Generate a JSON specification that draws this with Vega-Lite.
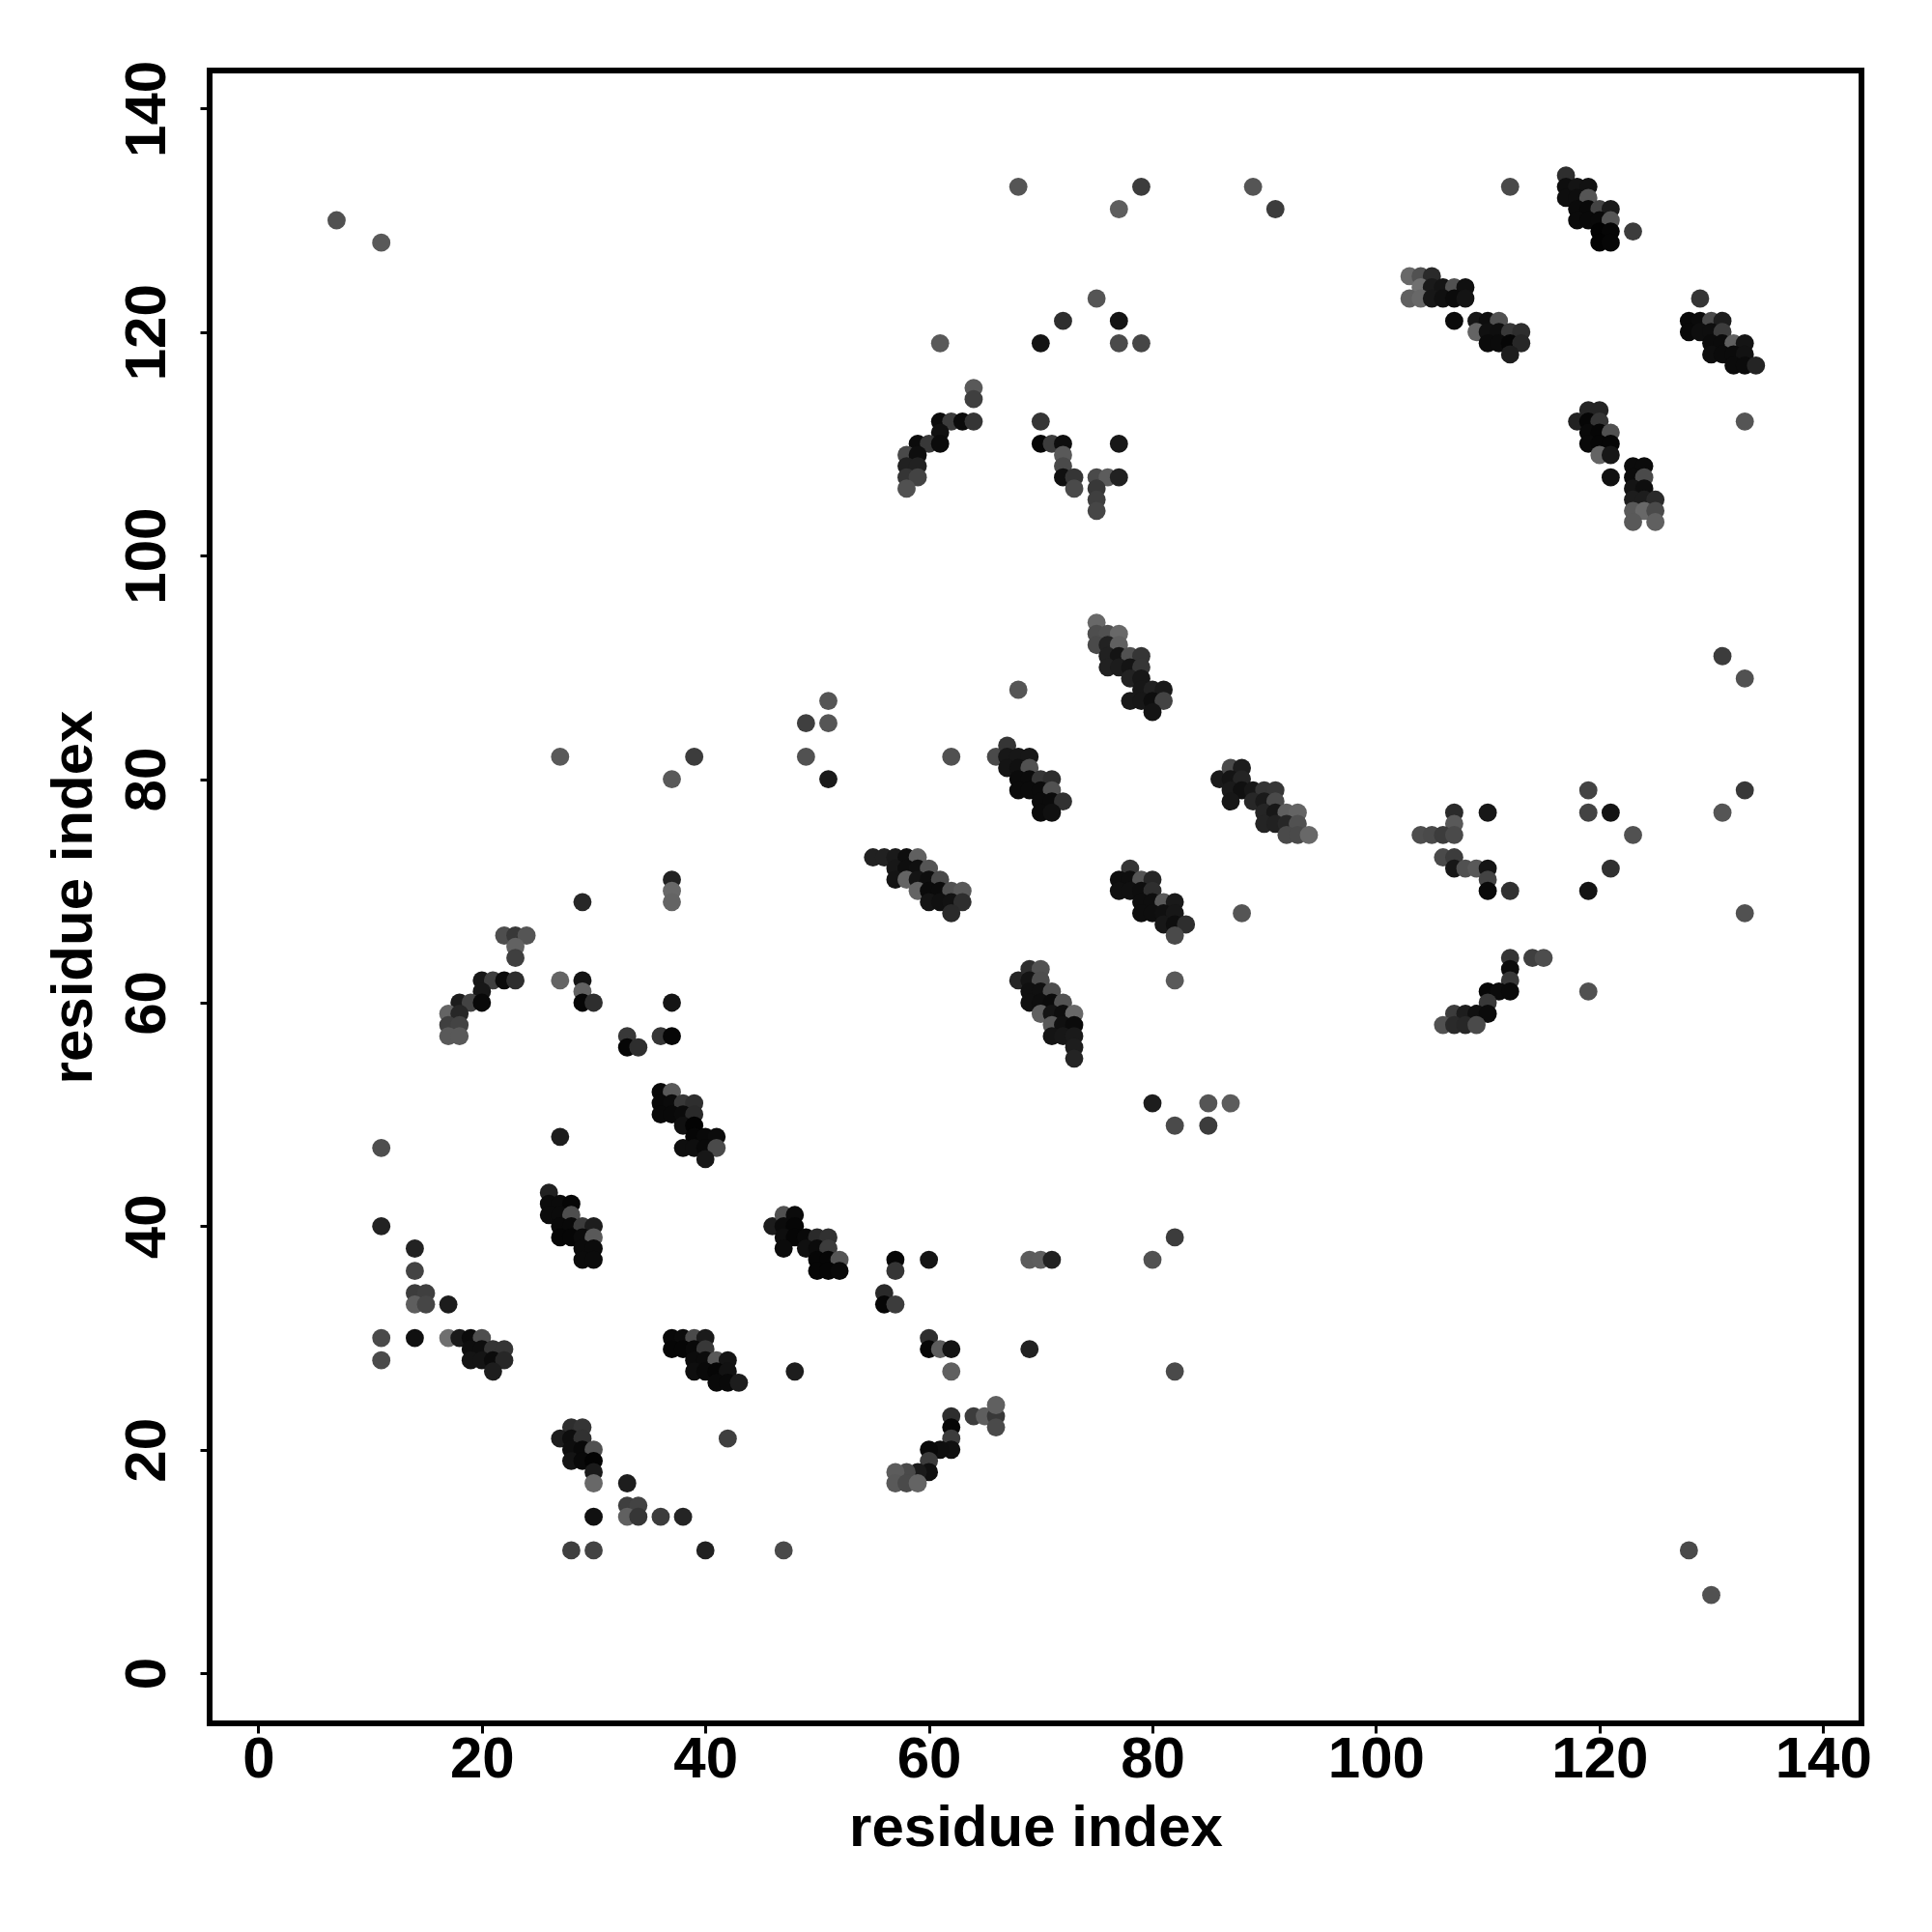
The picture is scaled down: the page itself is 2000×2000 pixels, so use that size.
{"$schema":"https://vega.github.io/schema/vega-lite/v6.json","width":1710,"height":1711,"autosize":{"type":"none"},"padding":{"left":217,"top":73,"right":73,"bottom":216},"background":"white","config":{"view":{"stroke":"#000","strokeWidth":6,"fill":"white"}},
"data":{"values":[
{"i":7,"j":130,"g":88},{"i":11,"j":128,"g":96},{"i":11,"j":47,"g":85},{"i":11,"j":40,"g":34},{"i":11,"j":30,"g":80},{"i":11,"j":28,"g":80},
{"i":14,"j":38,"g":34},{"i":14,"j":36,"g":72},{"i":14,"j":34,"g":64},{"i":15,"j":34,"g":68},{"i":14,"j":33,"g":102},{"i":15,"j":33,"g":76},{"i":17,"j":33,"g":26},{"i":14,"j":30,"g":12},
{"i":17,"j":30,"g":119},{"i":18,"j":30,"g":24},{"i":19,"j":30,"g":8},{"i":20,"j":30,"g":85},{"i":19,"j":29,"g":10},{"i":20,"j":29,"g":10},{"i":21,"j":29,"g":56},{"i":22,"j":29,"g":56},{"i":19,"j":28,"g":16},{"i":20,"j":28,"g":16},{"i":21,"j":28,"g":8},{"i":22,"j":28,"g":40},{"i":21,"j":27,"g":28},
{"i":26,"j":43,"g":32},{"i":26,"j":42,"g":8},{"i":27,"j":42,"g":8},{"i":28,"j":42,"g":4},{"i":26,"j":41,"g":8},{"i":27,"j":41,"g":8},{"i":28,"j":41,"g":85},{"i":27,"j":40,"g":6},{"i":28,"j":40,"g":6},{"i":29,"j":40,"g":64},{"i":30,"j":40,"g":28},{"i":27,"j":39,"g":4},{"i":28,"j":39,"g":4},{"i":29,"j":39,"g":8},{"i":30,"j":39,"g":96},{"i":29,"j":38,"g":8},{"i":30,"j":38,"g":8},{"i":29,"j":37,"g":8},{"i":30,"j":37,"g":8},
{"i":37,"j":71,"g":34},{"i":37,"j":70,"g":112},{"i":37,"j":69,"g":108},{"i":29,"j":69,"g":40},{"i":22,"j":66,"g":85},{"i":23,"j":66,"g":60},{"i":24,"j":66,"g":92},{"i":23,"j":65,"g":106},{"i":23,"j":64,"g":68},
{"i":20,"j":62,"g":20},{"i":21,"j":62,"g":68},{"i":22,"j":62,"g":8},{"i":23,"j":62,"g":48},{"i":27,"j":62,"g":108},{"i":29,"j":62,"g":16},{"i":29,"j":61,"g":106},{"i":20,"j":61,"g":20},{"i":18,"j":60,"g":26},{"i":19,"j":60,"g":72},{"i":20,"j":60,"g":6},{"i":29,"j":60,"g":4},{"i":30,"j":60,"g":48},{"i":37,"j":60,"g":16},{"i":17,"j":59,"g":108},{"i":18,"j":59,"g":40},{"i":17,"j":58,"g":68},{"i":18,"j":58,"g":72},{"i":17,"j":57,"g":96},{"i":18,"j":57,"g":96},
{"i":33,"j":57,"g":60},{"i":33,"j":56,"g":4},{"i":34,"j":56,"g":48},{"i":36,"j":57,"g":56},{"i":37,"j":57,"g":4},{"i":27,"j":48,"g":28},
{"i":36,"j":52,"g":6},{"i":37,"j":52,"g":96},{"i":36,"j":51,"g":6},{"i":37,"j":51,"g":8},{"i":38,"j":51,"g":60},{"i":39,"j":51,"g":48},{"i":36,"j":50,"g":6},{"i":37,"j":50,"g":6},{"i":38,"j":50,"g":8},{"i":39,"j":50,"g":44},{"i":38,"j":49,"g":12},{"i":39,"j":49,"g":2},{"i":39,"j":48,"g":4},{"i":40,"j":48,"g":6},{"i":41,"j":48,"g":8},{"i":38,"j":47,"g":10},{"i":39,"j":47,"g":10},{"i":40,"j":47,"g":6},{"i":41,"j":47,"g":80},{"i":40,"j":46,"g":20},
{"i":28,"j":22,"g":48},{"i":29,"j":22,"g":56},{"i":27,"j":21,"g":28},{"i":28,"j":21,"g":10},{"i":29,"j":21,"g":52},{"i":28,"j":20,"g":10},{"i":29,"j":20,"g":6},{"i":30,"j":20,"g":88},{"i":28,"j":19,"g":16},{"i":29,"j":19,"g":6},{"i":30,"j":19,"g":2},{"i":30,"j":18,"g":24},{"i":30,"j":17,"g":112},{"i":33,"j":17,"g":28},{"i":33,"j":15,"g":68},{"i":34,"j":15,"g":72},{"i":33,"j":14,"g":104},{"i":34,"j":14,"g":58},{"i":30,"j":14,"g":12},{"i":36,"j":14,"g":64},{"i":38,"j":14,"g":36},{"i":28,"j":11,"g":68},{"i":30,"j":11,"g":72},{"i":40,"j":11,"g":32},{"i":42,"j":21,"g":68},
{"i":37,"j":30,"g":6},{"i":38,"j":30,"g":8},{"i":39,"j":30,"g":80},{"i":40,"j":30,"g":24},{"i":37,"j":29,"g":4},{"i":38,"j":29,"g":4},{"i":39,"j":29,"g":6},{"i":40,"j":29,"g":60},{"i":39,"j":28,"g":8},{"i":40,"j":28,"g":8},{"i":41,"j":28,"g":96},{"i":42,"j":28,"g":16},{"i":39,"j":27,"g":10},{"i":40,"j":27,"g":6},{"i":41,"j":27,"g":4},{"i":42,"j":27,"g":14},{"i":41,"j":26,"g":6},{"i":42,"j":26,"g":6},{"i":43,"j":26,"g":28},
{"i":46,"j":40,"g":26},{"i":47,"j":41,"g":88},{"i":48,"j":41,"g":8},{"i":47,"j":40,"g":8},{"i":48,"j":40,"g":4},{"i":47,"j":39,"g":10},{"i":48,"j":39,"g":4},{"i":49,"j":39,"g":6},{"i":50,"j":39,"g":44},{"i":51,"j":39,"g":52},{"i":47,"j":38,"g":8},{"i":49,"j":38,"g":12},{"i":50,"j":38,"g":8},{"i":51,"j":38,"g":64},{"i":50,"j":37,"g":4},{"i":51,"j":37,"g":4},{"i":52,"j":37,"g":92},{"i":50,"j":36,"g":4},{"i":51,"j":36,"g":4},{"i":52,"j":36,"g":6},
{"i":57,"j":37,"g":4},{"i":57,"j":36,"g":56},{"i":60,"j":37,"g":16},{"i":69,"j":37,"g":100},{"i":70,"j":37,"g":102},{"i":71,"j":37,"g":32},{"i":56,"j":34,"g":42},{"i":56,"j":33,"g":4},{"i":57,"j":33,"g":64},{"i":60,"j":30,"g":48},{"i":60,"j":29,"g":4},{"i":61,"j":29,"g":100},{"i":62,"j":29,"g":16},{"i":69,"j":29,"g":34},{"i":62,"j":27,"g":104},{"i":48,"j":27,"g":28},
{"i":62,"j":23,"g":48},{"i":62,"j":22,"g":4},{"i":62,"j":21,"g":64},{"i":62,"j":20,"g":12},{"i":61,"j":20,"g":10},{"i":60,"j":20,"g":6},{"i":60,"j":19,"g":64},{"i":60,"j":18,"g":12},{"i":59,"j":18,"g":24},{"i":58,"j":18,"g":80},{"i":57,"j":18,"g":100},{"i":57,"j":17,"g":96},{"i":58,"j":17,"g":80},{"i":59,"j":17,"g":108},{"i":64,"j":23,"g":64},{"i":65,"j":23,"g":102},{"i":66,"j":23,"g":60},{"i":66,"j":24,"g":104},{"i":66,"j":22,"g":80},{"i":47,"j":11,"g":80},
{"i":55,"j":73,"g":32},{"i":56,"j":73,"g":32},{"i":57,"j":73,"g":24},{"i":58,"j":73,"g":10},{"i":59,"j":73,"g":104},{"i":57,"j":72,"g":20},{"i":58,"j":72,"g":10},{"i":59,"j":72,"g":12},{"i":60,"j":72,"g":92},{"i":57,"j":71,"g":16},{"i":58,"j":71,"g":108},{"i":59,"j":71,"g":16},{"i":60,"j":71,"g":10},{"i":61,"j":71,"g":80},{"i":59,"j":70,"g":108},{"i":60,"j":70,"g":8},{"i":61,"j":70,"g":8},{"i":62,"j":70,"g":88},{"i":63,"j":70,"g":96},{"i":60,"j":69,"g":16},{"i":61,"j":69,"g":12},{"i":62,"j":69,"g":14},{"i":63,"j":69,"g":48},{"i":62,"j":68,"g":44},
{"i":78,"j":72,"g":56},{"i":77,"j":71,"g":10},{"i":78,"j":71,"g":10},{"i":79,"j":71,"g":92},{"i":80,"j":71,"g":40},{"i":77,"j":70,"g":12},{"i":78,"j":70,"g":12},{"i":79,"j":70,"g":10},{"i":80,"j":70,"g":48},{"i":79,"j":69,"g":10},{"i":80,"j":69,"g":10},{"i":81,"j":69,"g":96},{"i":82,"j":69,"g":22},{"i":79,"j":68,"g":10},{"i":80,"j":68,"g":10},{"i":81,"j":68,"g":12},{"i":82,"j":68,"g":20},{"i":81,"j":67,"g":20},{"i":82,"j":67,"g":10},{"i":83,"j":67,"g":48},{"i":82,"j":66,"g":80},{"i":82,"j":62,"g":96},{"i":88,"j":68,"g":92},
{"i":68,"j":62,"g":38},{"i":69,"j":63,"g":48},{"i":70,"j":63,"g":88},{"i":69,"j":62,"g":16},{"i":70,"j":62,"g":85},{"i":69,"j":61,"g":12},{"i":70,"j":61,"g":12},{"i":71,"j":61,"g":85},{"i":69,"j":60,"g":12},{"i":70,"j":60,"g":10},{"i":71,"j":60,"g":8},{"i":72,"j":60,"g":90},{"i":70,"j":59,"g":104},{"i":71,"j":59,"g":16},{"i":72,"j":59,"g":10},{"i":73,"j":59,"g":112},{"i":71,"j":58,"g":96},{"i":72,"j":58,"g":12},{"i":73,"j":58,"g":8},{"i":71,"j":57,"g":16},{"i":72,"j":57,"g":20},{"i":73,"j":57,"g":24},{"i":73,"j":56,"g":28},{"i":73,"j":55,"g":36},
{"i":80,"j":51,"g":28},{"i":85,"j":51,"g":92},{"i":87,"j":51,"g":100},{"i":82,"j":49,"g":80},{"i":85,"j":49,"g":64},
{"i":75,"j":94,"g":112},{"i":75,"j":93,"g":85},{"i":76,"j":93,"g":88},{"i":77,"j":93,"g":112},{"i":75,"j":92,"g":80},{"i":76,"j":92,"g":34},{"i":77,"j":92,"g":104},{"i":76,"j":91,"g":32},{"i":77,"j":91,"g":16},{"i":78,"j":91,"g":88},{"i":79,"j":91,"g":56},{"i":76,"j":90,"g":32},{"i":77,"j":90,"g":26},{"i":78,"j":90,"g":16},{"i":79,"j":90,"g":58},{"i":78,"j":89,"g":34},{"i":79,"j":89,"g":20},{"i":79,"j":88,"g":20},{"i":80,"j":88,"g":32},{"i":81,"j":88,"g":24},{"i":78,"j":87,"g":22},{"i":79,"j":87,"g":20},{"i":80,"j":87,"g":10},{"i":81,"j":87,"g":72},{"i":80,"j":86,"g":16},{"i":68,"j":88,"g":92},
{"i":66,"j":82,"g":80},{"i":67,"j":83,"g":56},{"i":67,"j":82,"g":20},{"i":68,"j":82,"g":20},{"i":69,"j":82,"g":20},{"i":67,"j":81,"g":16},{"i":68,"j":81,"g":12},{"i":69,"j":81,"g":88},{"i":68,"j":80,"g":8},{"i":69,"j":80,"g":8},{"i":70,"j":80,"g":58},{"i":71,"j":80,"g":48},{"i":68,"j":79,"g":8},{"i":69,"j":79,"g":8},{"i":70,"j":79,"g":8},{"i":71,"j":79,"g":88},{"i":70,"j":78,"g":8},{"i":71,"j":78,"g":8},{"i":72,"j":78,"g":52},{"i":70,"j":77,"g":8},{"i":71,"j":77,"g":12},
{"i":86,"j":80,"g":24},{"i":87,"j":81,"g":80},{"i":88,"j":81,"g":28},{"i":87,"j":80,"g":16},{"i":88,"j":80,"g":36},{"i":87,"j":79,"g":24},{"i":88,"j":79,"g":12},{"i":89,"j":79,"g":20},{"i":90,"j":79,"g":56},{"i":91,"j":79,"g":58},{"i":87,"j":78,"g":20},{"i":89,"j":78,"g":40},{"i":90,"j":78,"g":24},{"i":91,"j":78,"g":80},{"i":90,"j":77,"g":38},{"i":91,"j":77,"g":20},{"i":92,"j":77,"g":104},{"i":93,"j":77,"g":108},{"i":90,"j":76,"g":36},{"i":91,"j":76,"g":32},{"i":92,"j":76,"g":40},{"i":93,"j":76,"g":88},{"i":92,"j":75,"g":80},{"i":93,"j":75,"g":80},{"i":94,"j":75,"g":112},
{"i":107,"j":77,"g":44},{"i":110,"j":77,"g":20},{"i":107,"j":76,"g":96},{"i":104,"j":75,"g":85},{"i":105,"j":75,"g":80},{"i":106,"j":75,"g":64},{"i":107,"j":75,"g":80},{"i":106,"j":73,"g":80},{"i":107,"j":73,"g":64},{"i":107,"j":72,"g":20},{"i":108,"j":72,"g":88},{"i":109,"j":72,"g":96},{"i":110,"j":72,"g":16},{"i":110,"j":71,"g":72},{"i":110,"j":70,"g":6},{"i":112,"j":70,"g":52},
{"i":112,"j":64,"g":56},{"i":114,"j":64,"g":68},{"i":115,"j":64,"g":84},{"i":112,"j":63,"g":8},{"i":112,"j":62,"g":60},{"i":110,"j":61,"g":4},{"i":111,"j":61,"g":8},{"i":112,"j":61,"g":6},{"i":110,"j":60,"g":60},{"i":107,"j":59,"g":64},{"i":108,"j":59,"g":28},{"i":109,"j":59,"g":12},{"i":110,"j":59,"g":8},{"i":106,"j":58,"g":88},{"i":107,"j":58,"g":44},{"i":108,"j":58,"g":40},{"i":109,"j":58,"g":80},{"i":119,"j":61,"g":88},
{"i":119,"j":70,"g":16},{"i":121,"j":72,"g":52},{"i":123,"j":75,"g":88},{"i":119,"j":77,"g":72},{"i":121,"j":77,"g":16},{"i":119,"j":79,"g":72},{"i":131,"j":77,"g":92},{"i":133,"j":79,"g":60},{"i":133,"j":68,"g":88},{"i":131,"j":91,"g":64},{"i":133,"j":89,"g":88},
{"i":103,"j":125,"g":112},{"i":104,"j":125,"g":88},{"i":105,"j":125,"g":44},{"i":104,"j":124,"g":120},{"i":105,"j":124,"g":24},{"i":106,"j":124,"g":16},{"i":107,"j":124,"g":88},{"i":108,"j":124,"g":12},{"i":103,"j":123,"g":104},{"i":104,"j":123,"g":112},{"i":105,"j":123,"g":20},{"i":106,"j":123,"g":12},{"i":107,"j":123,"g":8},{"i":108,"j":123,"g":16},
{"i":107,"j":121,"g":8},{"i":109,"j":121,"g":20},{"i":110,"j":121,"g":10},{"i":111,"j":121,"g":88},{"i":109,"j":120,"g":108},{"i":110,"j":120,"g":12},{"i":111,"j":120,"g":10},{"i":112,"j":120,"g":60},{"i":113,"j":120,"g":48},{"i":110,"j":119,"g":8},{"i":111,"j":119,"g":8},{"i":112,"j":119,"g":4},{"i":113,"j":119,"g":40},{"i":112,"j":118,"g":28},
{"i":129,"j":123,"g":56},{"i":128,"j":121,"g":6},{"i":129,"j":121,"g":8},{"i":130,"j":121,"g":80},{"i":131,"j":121,"g":28},{"i":128,"j":120,"g":6},{"i":129,"j":120,"g":10},{"i":130,"j":120,"g":10},{"i":131,"j":120,"g":64},{"i":130,"j":119,"g":8},{"i":131,"j":119,"g":8},{"i":132,"j":119,"g":104},{"i":133,"j":119,"g":16},{"i":130,"j":118,"g":10},{"i":131,"j":118,"g":8},{"i":132,"j":118,"g":8},{"i":133,"j":118,"g":14},{"i":132,"j":117,"g":8},{"i":133,"j":117,"g":8},{"i":134,"j":117,"g":36},{"i":133,"j":112,"g":92},
{"i":118,"j":112,"g":34},{"i":119,"j":113,"g":38},{"i":120,"j":113,"g":36},{"i":119,"j":112,"g":4},{"i":120,"j":112,"g":56},{"i":119,"j":111,"g":6},{"i":120,"j":111,"g":4},{"i":121,"j":111,"g":88},{"i":119,"j":110,"g":6},{"i":120,"j":110,"g":4},{"i":121,"j":110,"g":4},{"i":120,"j":109,"g":108},{"i":121,"j":109,"g":20},{"i":121,"j":107,"g":12},
{"i":123,"j":108,"g":8},{"i":124,"j":108,"g":8},{"i":123,"j":107,"g":8},{"i":124,"j":107,"g":80},{"i":123,"j":106,"g":16},{"i":124,"j":106,"g":10},{"i":123,"j":105,"g":28},{"i":124,"j":105,"g":28},{"i":125,"j":105,"g":44},{"i":123,"j":104,"g":96},{"i":124,"j":104,"g":112},{"i":125,"j":104,"g":80},{"i":123,"j":103,"g":96},{"i":125,"j":103,"g":104},
{"i":117,"j":134,"g":48},{"i":117,"j":133,"g":10},{"i":118,"j":133,"g":16},{"i":119,"j":133,"g":14},{"i":117,"j":132,"g":10},{"i":118,"j":132,"g":10},{"i":119,"j":132,"g":92},{"i":118,"j":131,"g":8},{"i":119,"j":131,"g":6},{"i":120,"j":131,"g":72},{"i":121,"j":131,"g":24},{"i":118,"j":130,"g":8},{"i":119,"j":130,"g":6},{"i":120,"j":130,"g":6},{"i":121,"j":130,"g":92},{"i":120,"j":129,"g":2},{"i":121,"j":129,"g":4},{"i":123,"j":129,"g":64},{"i":120,"j":128,"g":2},{"i":121,"j":128,"g":4},
{"i":64,"j":115,"g":96},{"i":64,"j":114,"g":68},{"i":61,"j":112,"g":8},{"i":62,"j":112,"g":64},{"i":63,"j":112,"g":8},{"i":64,"j":112,"g":56},{"i":70,"j":112,"g":56},{"i":61,"j":111,"g":12},{"i":59,"j":110,"g":8},{"i":60,"j":110,"g":60},{"i":61,"j":110,"g":8},{"i":70,"j":110,"g":4},{"i":71,"j":110,"g":64},{"i":72,"j":110,"g":10},{"i":77,"j":110,"g":20},{"i":58,"j":109,"g":80},{"i":59,"j":109,"g":10},{"i":72,"j":109,"g":96},{"i":58,"j":108,"g":32},{"i":59,"j":108,"g":32},{"i":72,"j":108,"g":80},{"i":58,"j":107,"g":56},{"i":59,"j":107,"g":72},{"i":72,"j":107,"g":12},{"i":73,"j":107,"g":56},{"i":75,"j":107,"g":80},{"i":76,"j":107,"g":100},{"i":77,"j":107,"g":32},{"i":58,"j":106,"g":88},{"i":73,"j":106,"g":80},{"i":75,"j":106,"g":60},{"i":75,"j":105,"g":68},{"i":75,"j":104,"g":76},
{"i":68,"j":133,"g":92},{"i":77,"j":131,"g":102},{"i":79,"j":133,"g":64},{"i":89,"j":133,"g":92},{"i":91,"j":131,"g":64},{"i":112,"j":133,"g":80},{"i":61,"j":119,"g":96},{"i":70,"j":119,"g":16},{"i":72,"j":121,"g":48},{"i":75,"j":123,"g":92},{"i":77,"j":121,"g":16},{"i":77,"j":119,"g":80},{"i":79,"j":119,"g":76},
{"i":49,"j":85,"g":68},{"i":51,"j":87,"g":92},{"i":51,"j":85,"g":92},{"i":49,"j":82,"g":88},{"i":51,"j":80,"g":24},{"i":27,"j":82,"g":96},{"i":37,"j":80,"g":96},{"i":39,"j":82,"g":64},{"i":62,"j":82,"g":88},
{"i":80,"j":37,"g":88},{"i":82,"j":39,"g":64},{"i":82,"j":27,"g":80},{"i":128,"j":11,"g":80},{"i":130,"j":7,"g":88}
]},
"mark":{"type":"circle","opacity":1,"size":355,"stroke":null},
"encoding":{
"x":{"field":"i","type":"quantitative","scale":{"domain":[-4.36,143.44],"nice":false,"zero":false},
"axis":{"title":"residue index","values":[0,20,40,60,80,100,120,140],"grid":false,"domain":false,"tickColor":"#000","tickWidth":3,"tickSize":10,"labelFont":"Liberation Sans","labelFontWeight":"bold","labelFontSize":60,"labelColor":"#000","labelPadding":-2,"labelBaseline":"top","labelFlush":false,"titleFont":"Liberation Sans","titleFontWeight":"bold","titleFontSize":60,"titleColor":"#000","titlePadding":12}},
"y":{"field":"j","type":"quantitative","scale":{"domain":[-4.48,143.4],"nice":false,"zero":false},
"axis":{"title":"residue index","values":[0,20,40,60,80,100,120,140],"grid":false,"domain":false,"tickColor":"#000","tickWidth":3,"tickSize":10,"labelFont":"Liberation Sans","labelFontWeight":"bold","labelFontSize":60,"labelColor":"#000","labelAngle":-90,"labelAlign":"center","labelBaseline":"bottom","labelPadding":24,"labelFlush":false,"titleFont":"Liberation Sans","titleFontWeight":"bold","titleFontSize":60,"titleColor":"#000","titlePadding":15}},
"color":{"field":"g","type":"quantitative","scale":{"domain":[0,255],"range":["#000000","#ffffff"]},"legend":null},
"order":[{"field":"i","type":"quantitative"},{"field":"j","type":"quantitative"}]
}}
